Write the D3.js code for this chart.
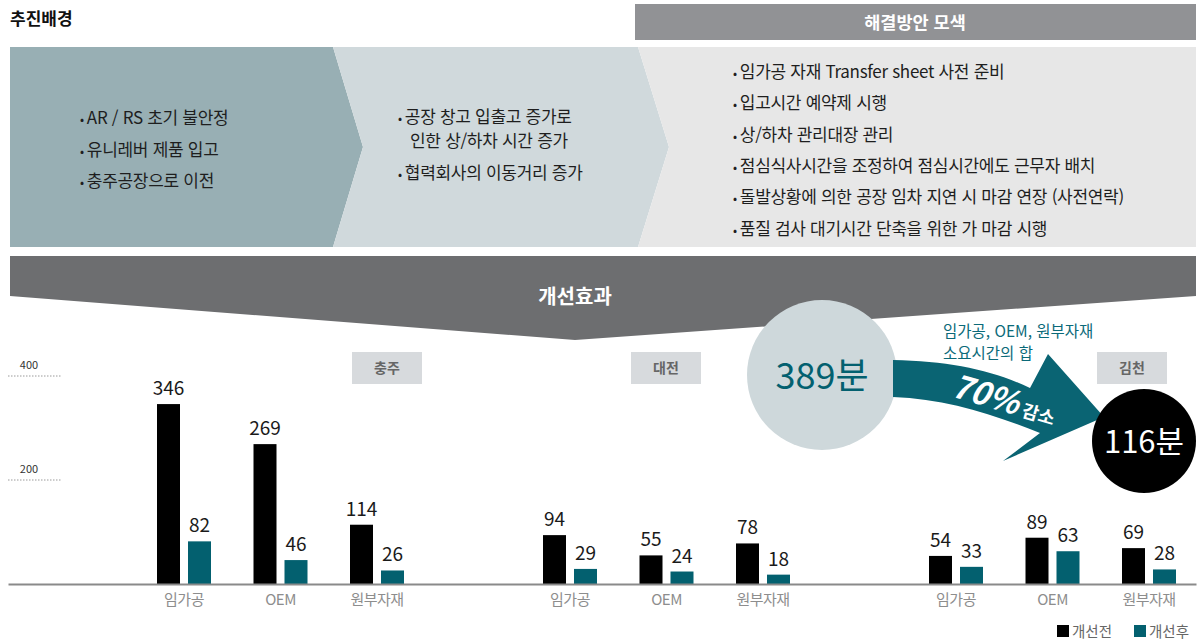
<!DOCTYPE html>
<html lang="ko">
<head>
<meta charset="utf-8">
<script src="https://cdn.jsdelivr.net/npm/d3@7/dist/d3.min.js"></script>
<style>
  html, body { margin: 0; padding: 0; background: #fff; }
  svg { display: block; font-family: "Noto Sans CJK KR", "Noto Sans", sans-serif; }
</style>
</head>
<body>
<svg id="chart" width="1204" height="642"></svg>
<script>
// ---- data ----
const regions = ["충주", "대전", "김천"];
const categories = ["임가공", "OEM", "원부자재"];
// minutes per region (region-major order: 충주, 대전, 김천 × 임가공, OEM, 원부자재)
const beforeMinutes = [346, 269, 114, 94, 55, 78, 54, 89, 69];
const afterMinutes  = [82, 46, 26, 29, 24, 18, 33, 63, 28];
const yTicks = [200, 400];
const seriesNames = ["개선전", "개선후"];
const totalBefore = 389;
const totalAfter = 116;
const reductionPct = 70;

const backgroundItems = ["AR / RS 초기 불안정", "유니레버 제품 입고", "충주공장으로 이전"];
const causeItems = [["공장 창고 입출고 증가로", "인한 상/하차 시간 증가"], ["협력회사의 이동거리 증가"]];
const solutionItems = [
  "임가공 자재 Transfer sheet 사전 준비",
  "입고시간 예약제 시행",
  "상/하차 관리대장 관리",
  "점심식사시간을 조정하여 점심시간에도 근무자 배치",
  "돌발상황에 의한 공장 임차 지연 시 마감 연장 (사전연락)",
  "품질 검사 대기시간 단축을 위한 가 마감 시행"
];

const BLACK = "#000000";
const TEAL = "#03606f";

const svg = d3.select("#chart");

// ---- header ----
svg.append("text").attr("x", 10).attr("y", 25)
  .attr("font-size", 17).attr("font-weight", 700).attr("fill", "#111")
  .text("추진배경");

svg.append("rect").attr("x", 635).attr("y", 4).attr("width", 561).attr("height", 36)
  .attr("fill", "#919295");
svg.append("text").attr("x", 915).attr("y", 29).attr("text-anchor", "middle")
  .attr("font-size", 17.5).attr("font-weight", 700).attr("fill", "#fff")
  .text("해결방안 모색");

// ---- chevron panels ----
const pTop = 47, pBot = 247, pMid = 147;
const panels = [
  { fill: "#98afb4", pts: [[10, pTop], [333, pTop], [363, pMid], [333, pBot], [10, pBot]] },
  { fill: "#d0d9dc", pts: [[333, pTop], [638, pTop], [669, pMid], [638, pBot], [333, pBot], [363, pMid]] },
  { fill: "#e7e7e7", pts: [[638, pTop], [1196, pTop], [1196, pBot], [638, pBot], [669, pMid]] }
];
svg.selectAll("polygon.panel").data(panels).join("polygon")
  .attr("class", "panel")
  .attr("points", d => d.pts.map(p => p.join(",")).join(" "))
  .attr("fill", d => d.fill);

const bulletText = (x, y, str, bullet = true) => {
  const t = svg.append("text").attr("x", x).attr("y", y)
    .attr("font-size", 17).attr("fill", "#1e1e1e").attr("letter-spacing", -0.3);
  if (bullet) {
    t.append("tspan").attr("font-size", 12).text("• ");
  }
  t.append("tspan").text(str);
};

backgroundItems.forEach((s, i) => bulletText(80, 124 + i * 31.5, s));
bulletText(398, 123, causeItems[0][0]);
bulletText(410, 147, causeItems[0][1], false);
bulletText(398, 179, causeItems[1][0]);
solutionItems.forEach((s, i) => bulletText(733, 78 + i * 31.3, s));

// ---- 개선효과 banner ----
svg.append("polygon")
  .attr("points", "10,256 1196,256 1196,296 575,340 10,296")
  .attr("fill", "#6d6e70");
svg.append("text").attr("x", 575).attr("y", 304).attr("text-anchor", "middle")
  .attr("font-size", 20).attr("font-weight", 700).attr("fill", "#fff")
  .text("개선효과");

// ---- bar chart ----
const baseY = 584;
const y = d3.scaleLinear().domain([0, 400]).range([baseY, baseY - 208]);
const xRegion = d3.scalePoint().domain(regions).range([285, 1057]);
const xCat = d3.scalePoint().domain(categories).range([-101, 92]);
const barW = 23, gap = 8;

const rows = [];
regions.forEach((r, ri) => categories.forEach((c, ci) => {
  const k = ri * categories.length + ci;
  rows.push({ region: r, cat: c, before: beforeMinutes[k], after: afterMinutes[k] });
}));
const center = d => xRegion(d.region) + xCat(d.cat);

// y ticks (dotted guides on the left)
const yt = svg.append("g");
yt.selectAll("line").data(yTicks).join("line")
  .attr("x1", 8).attr("x2", 62).attr("y1", d => y(d)).attr("y2", d => y(d))
  .attr("stroke", "#9a9a9a").attr("stroke-width", 1).attr("stroke-dasharray", "1.5,1.5");
yt.selectAll("text").data(yTicks).join("text")
  .attr("x", 29).attr("y", d => y(d) - 7).attr("text-anchor", "middle")
  .attr("font-size", 11).attr("fill", "#333").text(d => d);

// region tags
const tag = svg.append("g").selectAll("g").data(regions).join("g");
const tagX = { "충주": 387, "대전": 666, "김천": 1132 };
tag.append("rect")
  .attr("x", d => tagX[d] - 35).attr("y", 352).attr("width", 70).attr("height", 32)
  .attr("fill", "#d7dadd");
tag.append("text")
  .attr("x", d => tagX[d]).attr("y", 373).attr("text-anchor", "middle")
  .attr("font-size", 14).attr("font-weight", 700).attr("fill", "#666").text(d => d);

// bars
const bars = svg.append("g");
bars.selectAll("rect.before").data(rows).join("rect")
  .attr("class", "before")
  .attr("x", d => center(d) - gap / 2 - barW).attr("width", barW)
  .attr("y", d => y(d.before)).attr("height", d => baseY - y(d.before))
  .attr("fill", BLACK);
bars.selectAll("rect.after").data(rows).join("rect")
  .attr("class", "after")
  .attr("x", d => center(d) + gap / 2).attr("width", barW)
  .attr("y", d => y(d.after)).attr("height", d => baseY - y(d.after))
  .attr("fill", TEAL);

// value labels
bars.selectAll("text.vb").data(rows).join("text")
  .attr("class", "vb")
  .attr("x", d => center(d) - gap / 2 - barW / 2).attr("y", d => y(d.before) - 9)
  .attr("text-anchor", "middle").attr("font-size", 19).attr("fill", "#1a1a1a")
  .text(d => d.before);
bars.selectAll("text.va").data(rows).join("text")
  .attr("class", "va")
  .attr("x", d => center(d) + gap / 2 + barW / 2).attr("y", d => y(d.after) - 9)
  .attr("text-anchor", "middle").attr("font-size", 19).attr("fill", "#1a1a1a")
  .text(d => d.after);

// baseline axis with category labels
const xAxis = d3.axisBottom(d3.scaleLinear().domain([0, 1]).range([8, 1196])).ticks(0).tickSize(0);
svg.append("g").attr("transform", `translate(0,${baseY})`).call(xAxis)
  .call(g => g.select(".domain").attr("stroke", "#8a8a8a").attr("stroke-width", 2))
  .call(g => g.selectAll(".tick").remove());
svg.append("g").selectAll("text").data(rows).join("text")
  .attr("x", center).attr("y", 605).attr("text-anchor", "middle")
  .attr("font-size", 15).attr("fill", "#8d8d8d").attr("letter-spacing", -0.5)
  .text(d => d.cat);

// legend
const legend = svg.append("g").selectAll("g").data(seriesNames).join("g")
  .attr("transform", (d, i) => `translate(${1057 + i * 77},0)`);
legend.append("rect").attr("x", 0).attr("y", 625).attr("width", 12).attr("height", 12)
  .attr("fill", (d, i) => i === 0 ? BLACK : TEAL);
legend.append("text").attr("x", 15).attr("y", 637)
  .attr("font-size", 14.5).attr("fill", "#666").text(d => d);

// ---- summary callout ----
svg.append("circle").attr("cx", 822).attr("cy", 375).attr("r", 75).attr("fill", "#ced8db");
svg.append("text").attr("x", 822).attr("y", 389).attr("text-anchor", "middle")
  .attr("font-size", 36).attr("fill", TEAL).text(`${totalBefore}분`);

svg.append("text").attr("x", 943).attr("y", 337)
  .attr("font-size", 15.5).attr("fill", "#0b6a79").text("임가공, OEM, 원부자재");
svg.append("text").attr("x", 943).attr("y", 359)
  .attr("font-size", 15.5).attr("fill", "#0b6a79").text("소요시간의 합");

// brush-style arrow
svg.append("path")
  .attr("d", "M893,360 C950,361 992,370 1030,388 L1048,354 L1104,417 L1003,461 L1040,433 C992,414 946,399 893,397 Z")
  .attr("fill", "#0a6473");
svg.append("text")
  .attr("transform", "translate(950,396) rotate(16)")
  .attr("font-size", 32).attr("font-weight", 700).attr("font-style", "italic").attr("fill", "#fff")
  .text(`${reductionPct}%`)
  .append("tspan").attr("font-size", 18).attr("font-style", "normal").attr("dx", 5).text("감소");

svg.append("circle").attr("cx", 1144).attr("cy", 441).attr("r", 52).attr("fill", "#000");
svg.append("text").attr("x", 1144).attr("y", 453).attr("text-anchor", "middle")
  .attr("font-size", 31).attr("fill", "#fff").text(`${totalAfter}분`);
</script>
</body>
</html>
